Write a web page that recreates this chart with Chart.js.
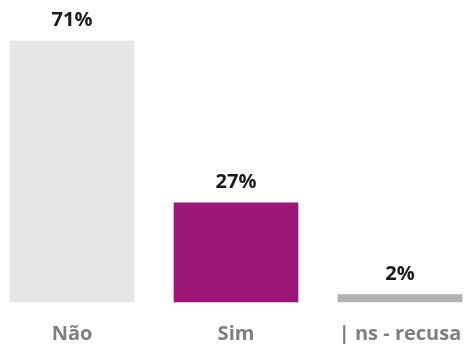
<!DOCTYPE html>
<html>
<head>
<meta charset="utf-8">
<script src="https://cdn.jsdelivr.net/npm/chart.js@4.4.1/dist/chart.umd.min.js"></script>
<style>
  html, body { margin: 0; padding: 0; background: #fff; overflow: hidden; }
  #wrap { width: 466px; height: 344px; }
</style>
</head>
<body>
<div id="wrap"><canvas id="mainChart"></canvas></div>
<script>
// chart data
const categories = ['Não', 'Sim', '| ns - recusa'];
const values = [71, 27, 2];
const valueLabels = ['71%', '27%', '2%'];
const barColors = ['#e6e6e6', '#9c1579', '#b3b3b3'];

// draws the percentage above each bar
const valueLabelPlugin = {
    id: 'valueLabels',
    afterDatasetsDraw(chart) {
        const ctx = chart.ctx;
        const meta = chart.getDatasetMeta(0);
        ctx.save();
        ctx.font = 'bold 20px "Open Sans", sans-serif';
        ctx.fillStyle = '#1a1a1a';
        ctx.textAlign = 'center';
        ctx.textBaseline = 'alphabetic';
        meta.data.forEach((bar, i) => {
            ctx.fillText(valueLabels[i], bar.x, bar.y - 15);
        });
        ctx.restore();
    }
};

new Chart(document.getElementById('mainChart').getContext('2d'), {
    type: 'bar',
    data: {
        labels: categories,
        datasets: [{
            data: values,
            backgroundColor: barColors,
            barThickness: 124,
            clip: false
        }]
    },
    options: {
        responsive: true,
        maintainAspectRatio: false,
        animation: false,
        layout: { padding: { left: 72, right: 66, top: 8, bottom: -14 } },
        plugins: {
            legend: { display: false },
            tooltip: { enabled: false }
        },
        scales: {
            x: {
                offset: false,
                grid: { display: false },
                border: { display: false },
                // layout padding alone sets the horizontal extent
                afterFit(scale) {
                    scale.paddingLeft = 0;
                    scale.paddingRight = 0;
                },
                ticks: {
                    color: '#7f7f7f',
                    font: { family: '"Open Sans", sans-serif', size: 20, weight: 'bold' },
                    padding: 12,
                    maxRotation: 0,
                    autoSkip: false
                }
            },
            y: {
                display: false,
                min: 0,
                max: 80
            }
        }
    },
    plugins: [valueLabelPlugin]
});
</script>
</body>
</html>
